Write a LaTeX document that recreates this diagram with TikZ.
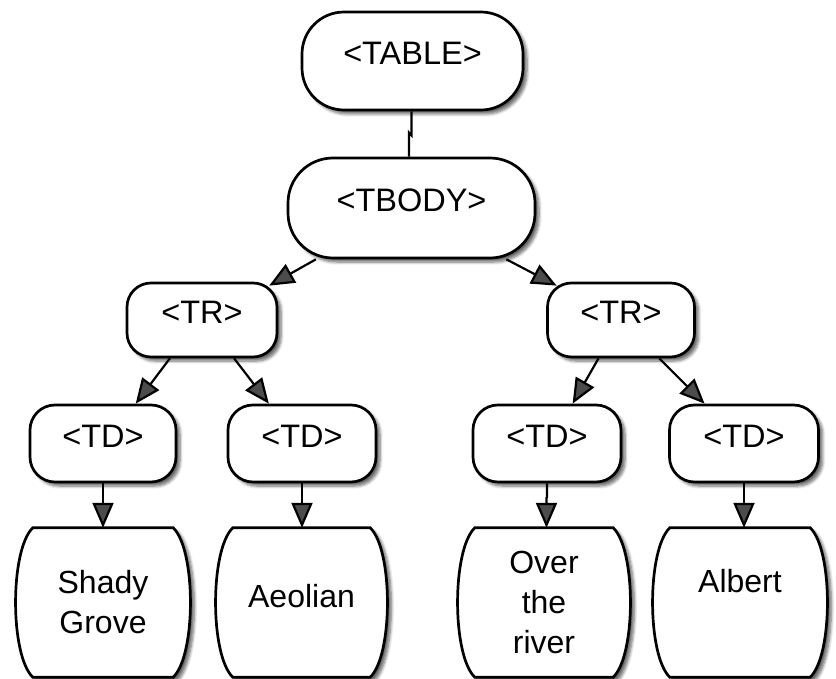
\documentclass[tikz,border=0pt]{standalone}
\usepackage{fontspec}
\setmainfont{Liberation Sans}
\usetikzlibrary{arrows.meta,calc,shadows.blur}
\pgfdeclarelayer{background}
\pgfsetlayers{background,main}

% barrel-shaped leaf outline built around a node of fixed size
\newcommand\barrelbox[1]{%
  \draw[leafline] (#1.north west) -- (#1.north east)
    .. controls ($(#1.north east)+(23,22)$) and ($(#1.south east)+(23,-22)$) .. (#1.south east)
    -- (#1.south west)
    .. controls ($(#1.south west)+(-23,-22)$) and ($(#1.north west)+(-23,22)$) .. cycle;}

\begin{document}
\begin{tikzpicture}[x=1pt,y=-1pt,
  softshadow/.style={blur shadow={shadow xshift=4pt, shadow yshift=-4pt,
      shadow opacity=60, shadow blur steps=6, shadow blur radius=3pt}},
  tag/.style={draw=black, line width=2.7pt, fill=white, rounded corners=#1,
      inner sep=0pt, font=\fontsize{32.5}{38}\selectfont,
      text height=23pt, text depth=15.5pt, softshadow},
  tag/.default=25pt,
  leaf/.style={minimum width=#1, minimum height=149pt, inner sep=0pt,
      align=center, font=\fontsize{32}{40}\selectfont},
  leafline/.style={draw=black, line width=2.7pt, fill=white, softshadow},
  link/.style={line width=2.2pt},
  conn/.style={line width=2.2pt, -{Triangle[length=25pt,width=21pt]}}
]
\useasboundingbox (0,0) rectangle (836,679);

% tag nodes
\node[tag=42pt, minimum width=221pt, minimum height=98pt]  (TABLE) at (412.5,61)  {<TABLE>};
\node[tag=45pt, minimum width=247pt, minimum height=100pt] (TBODY) at (411.5,208) {<TBODY>};
\node[tag=24pt, minimum width=150pt, minimum height=74pt]  (TRl)   at (202,320) {<TR>};
\node[tag=24pt, minimum width=147pt, minimum height=74pt]  (TRr)   at (621,320) {<TR>};
\node[tag, minimum width=146pt, minimum height=77pt] (TD1) at (103,443.5) {<TD>};
\node[tag, minimum width=148pt, minimum height=77pt] (TD2) at (302,443.5) {<TD>};
\node[tag, minimum width=148pt, minimum height=77pt] (TD3) at (547,443.5) {<TD>};
\node[tag, minimum width=149pt, minimum height=77pt] (TD4) at (744,443.5) {<TD>};

% leaf nodes (cell contents)
\node[leaf=140pt] (L1) at (103,602.5) {Shady\\Grove};
\node[leaf=137pt, text height=23pt, text depth=13pt] (L2) at (301.5,602.5) {Aeolian};
\node[leaf=138pt] (L3) at (544,602.5) {Over\\the\\river};
\node[leaf=140pt, text height=23pt, text depth=44pt] (L4) at (740,602.5) {Albert};

\begin{pgfonlayer}{background}
  \barrelbox{L1}
  \barrelbox{L2}
  \barrelbox{L3}
  \barrelbox{L4}
\end{pgfonlayer}

% connectors
\draw[link] ($(TABLE.south)+(-1,0)$) -- ++(0,24) -- ($(TBODY.north)+(-2.5,-24)$) -- ($(TBODY.north)+(-2.5,0)$);

\draw[conn] ($(TBODY.south west)!0.117!(TBODY.south east)$) -- ($(TRl.north west)!0.94!(TRl.north east)+(0,4)$);
\draw[conn] ($(TBODY.south west)!0.88!(TBODY.south east)$) -- ($(TRr.north west)!0.07!(TRr.north east)+(0,4)$);

\draw[conn] ($(TRl.south west)!0.29!(TRl.south east)$) -- ($(TD1.north west)!0.72!(TD1.north east)$);
\draw[conn] ($(TRl.south west)!0.71!(TRl.south east)$) -- ($(TD2.north west)!0.28!(TD2.north east)$);
\draw[conn] ($(TRr.south west)!0.35!(TRr.south east)$) -- ($(TD3.north west)!0.67!(TD3.north east)$);
\draw[conn] ($(TRr.south west)!0.755!(TRr.south east)$) -- ($(TD4.north west)!0.24!(TD4.north east)$);

\draw[conn] (TD1.south) -- (L1.north);
\draw[conn] (TD2.south) -- (TD2.south |- L2.north);
\draw[conn] (TD3.south) -- ++(0,14) -- ($(L3.north)+(2.5,-30)$) -- ($(L3.north)+(2.5,0)$);
\draw[conn] (TD4.south) -- (TD4.south |- L4.north);
\end{tikzpicture}
\end{document}
